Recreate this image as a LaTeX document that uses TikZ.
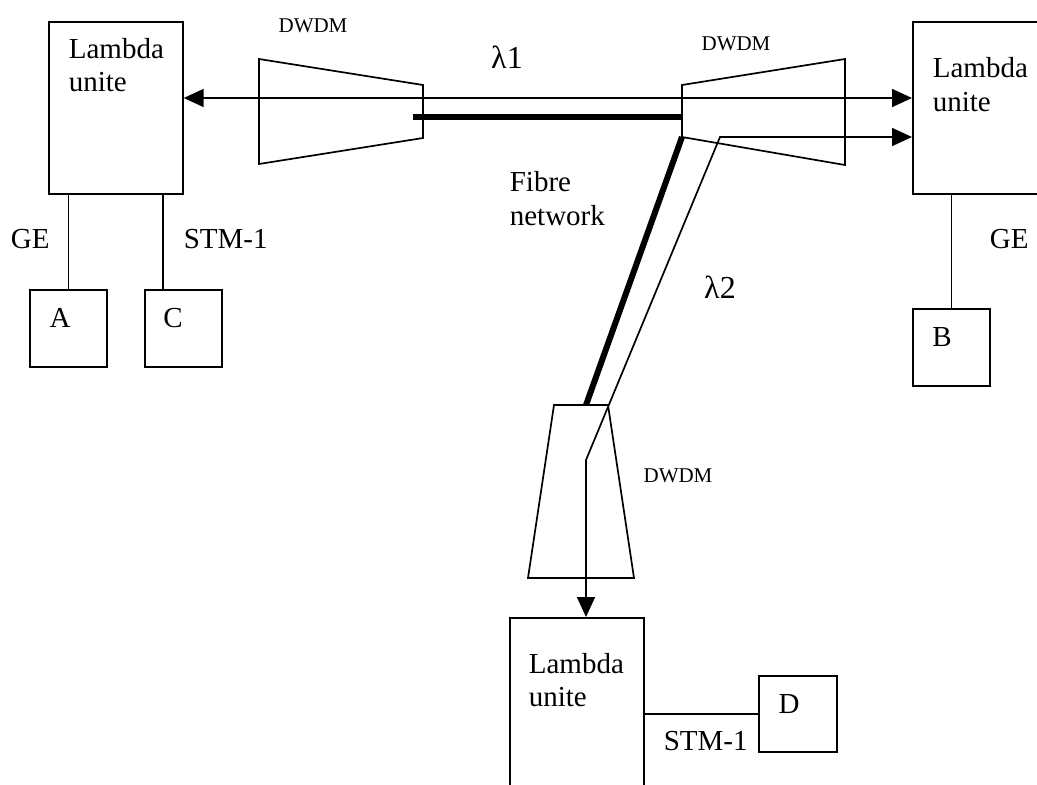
\documentclass[tikz,border=0pt]{standalone}
\usepackage{fontspec}
\setmainfont{Liberation Serif}
\usetikzlibrary{arrows.meta}
\begin{document}
\begin{tikzpicture}[x=1pt,y=-1pt,
  line width=1.7pt,
  box/.style={draw,rectangle,inner sep=0pt,anchor=north west},
  lbl/.style={inner sep=0pt,font=\fontsize{29}{33}\selectfont},
  small/.style={inner sep=0pt,font=\fontsize{21}{25}\selectfont},
  lam/.style={inner sep=0pt,font=\fontsize{32}{36}\selectfont},
  arr/.style={{Triangle[length=20pt,width=18pt]}-{Triangle[length=20pt,width=18pt]}},
  fibre/.style={line width=6pt}]
\useasboundingbox (0,0) rectangle (1037,785);
\clip (0,0) rectangle (1037,785);
% boxes
\node[box,minimum width=134pt,minimum height=172pt] (L1) at (48,21) {};
\node[box,minimum width=160pt,minimum height=172pt] (L2) at (912,21) {};
\node[box,minimum width=134pt,minimum height=200pt] (L3) at (509,617) {};
\node[box,minimum width=77pt,minimum height=77pt] (A) at (29,289) {};
\node[box,minimum width=77pt,minimum height=77pt] (C) at (144,289) {};
\node[box,minimum width=77pt,minimum height=77pt] (B) at (912,308) {};
\node[box,minimum width=78pt,minimum height=76pt] (D) at (758,675) {};
% box texts
\node[lbl,anchor=base west] (t1a) at (68,58) {Lambda};
\node[lbl,anchor=base west] (t1b) at (68,91) {unite};
\node[lbl,anchor=base west] (t2a) at (932,77) {Lambda};
\node[lbl,anchor=base west] (t2b) at (932,111) {unite};
\node[lbl,anchor=base west] (t3a) at (528,673) {Lambda};
\node[lbl,anchor=base west] (t3b) at (528,706) {unite};
\node[lbl,anchor=base] (tA) at (60,327) {A};
\node[lbl,anchor=base] (tC) at (173,327) {C};
\node[lbl,anchor=base] (tB) at (942,346) {B};
\node[lbl,anchor=base] (tD) at (789,713) {D};
% other labels
\node[lbl,anchor=base west] (ge1) at (10,248) {GE};
\node[lbl,anchor=base west] (stm1) at (183,248) {STM-1};
\node[lbl,anchor=base west] (ge2) at (989,248) {GE};
\node[lbl,anchor=base west] (stm2) at (663,750) {STM-1};
\node[lbl,anchor=base west] (fib1) at (509,191) {Fibre};
\node[lbl,anchor=base west] (fib2) at (509,225) {network};
\node[small,anchor=base] (dw1) at (313,32) {DWDM};
\node[small,anchor=base] (dw2) at (736,50) {DWDM};
\node[small,anchor=base] (dw3) at (678,482) {DWDM};
\node[lam,anchor=base] (l1) at (507,68) {λ1};
\node[lam,anchor=base] (l2) at (720,298) {λ2};
% DWDM trapezoids
\draw (259,59) -- (423,85) -- (423,138) -- (259,164) -- cycle;
\draw (682,85) -- (845,59) -- (845,165) -- (682,137) -- cycle;
\draw (554,405) -- (608,405) -- (634,578) -- (528,578) -- cycle;
% tributary links
\draw (A.north) -- (A.north |- L1.south);
\draw ([xshift=19pt]C.north west) -- ([xshift=19pt]C.north west |- L1.south);
\draw (B.north) -- (B.north |- L2.south);
\draw (D.west) -- (D.west -| L3.east);
% fibre
\coordinate (f1) at (413,117);
\coordinate (f2) at (682,117);
\coordinate (f3) at (682,137);
\coordinate (f4) at (586,405);
\draw[fibre] (f1) -- (f2);
\draw[fibre] (f3) -- (f4);
% wavelengths
\coordinate (r1) at (0,98);
\draw[arr] (L1.east |- r1) -- (L2.west |- r1);
\coordinate (b1) at (720,137);
\coordinate (b2) at (586,460);
\draw[arr] (b2 |- L3.north) -- (b2) -- (b1) -- (b1 -| L2.west);
\end{tikzpicture}
\end{document}
